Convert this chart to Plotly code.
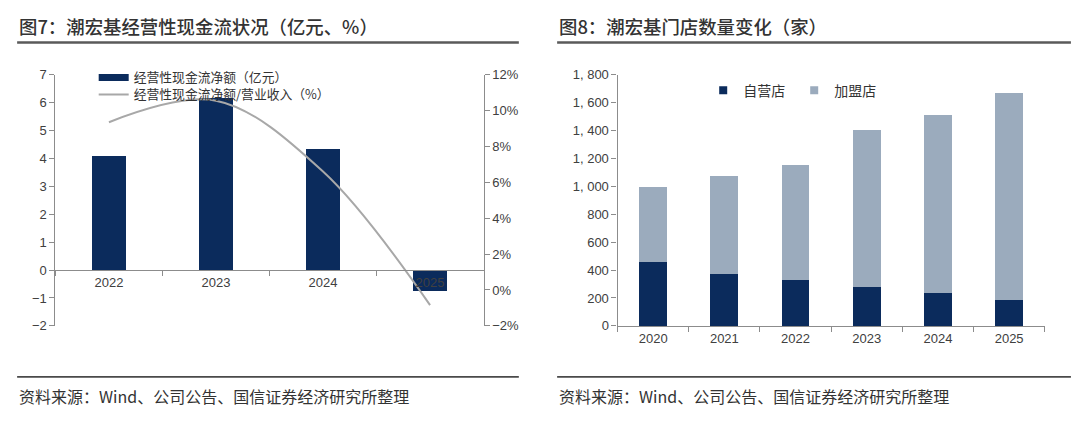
import plotly.graph_objects as go

# ---------------- data ----------------
cf_years = ["2022", "2023", "2024", "2025"]
cf_net = [4.10, 6.15, 4.34, -0.74]          # 经营性现金流净额（亿元）
cf_ratio = [9.35, 10.55, 6.6, -0.84]        # 经营性现金流净额/营业收入（%）

store_years = ["2020", "2021", "2022", "2023", "2024", "2025"]
store_self = [460, 370, 327, 279, 238, 188]          # 自营店
store_franchise = [535, 705, 829, 1121, 1276, 1481]  # 加盟店

store_ticks = [0, 200, 400, 600, 800, 1000, 1200, 1400, 1600, 1800]
store_ticktext = ["0", "200", "400", "600", "800", "1, 000", "1, 200", "1, 400", "1, 600", "1, 800"]

title_left = "图7：潮宏基经营性现金流状况（亿元、%）"
title_right = "图8：潮宏基门店数量变化（家）"
source_text = "资料来源：Wind、公司公告、国信证券经济研究所整理"

# ---------------- style ----------------
W, H = 1080, 423
NAVY = "#0b2b5c"
LIGHT = "#9babbd"
LINE_GRAY = "#a8a8a8"
AXIS_GRAY = "#8c8c8c"
TXT = "#333333"
CJK = "Noto Sans CJK SC"
TICKF = dict(family="Liberation Sans, Arial", size=13, color="#404040")

# screen -> layout pixel compensation (observed page offset/scale)
def sx(X):
    return (X / 0.9926 - 8) / W

def sy(Y):
    return 1 - (Y / 0.9636 - 16) / H

ydom = [sy(326), sy(75)]

fig = go.Figure()

# left chart: bars
fig.add_trace(go.Bar(
    x=cf_years, y=cf_net, name="经营性现金流净额（亿元）",
    marker=dict(color=NAVY, line=dict(width=0)), width=0.31,
    xaxis="x", yaxis="y", showlegend=False,
))
# legend proxy for the bars (flat wide swatch like the reference)
fig.add_trace(go.Scatter(
    x=[None], y=[None], mode="lines", name="经营性现金流净额（亿元）",
    line=dict(color=NAVY, width=7), xaxis="x", yaxis="y", legend="legend",
))
fig.add_trace(go.Scatter(
    x=cf_years, y=cf_ratio, mode="lines", name="经营性现金流净额/营业收入（%）",
    line=dict(color=LINE_GRAY, width=2, shape="spline", smoothing=1.0),
    xaxis="x", yaxis="y2", legend="legend3",
))

# right chart: stacked bars
fig.add_trace(go.Bar(
    x=store_years, y=store_self, name="自营店",
    marker=dict(color=NAVY, line=dict(width=0)), width=0.39,
    xaxis="x2", yaxis="y3", showlegend=False,
))
fig.add_trace(go.Bar(
    x=store_years, y=store_franchise, name="加盟店",
    marker=dict(color=LIGHT, line=dict(width=0)), width=0.39,
    xaxis="x2", yaxis="y3", showlegend=False,
))
for nm, col in [("自营店", NAVY), ("加盟店", LIGHT)]:
    fig.add_trace(go.Scatter(
        x=[None], y=[None], mode="markers", name=nm,
        marker=dict(color=col, symbol="square", size=8),
        xaxis="x2", yaxis="y3", legend="legend2",
    ))

axis_common = dict(
    showline=True, linecolor=AXIS_GRAY, linewidth=1.2,
    ticks="outside", ticklen=5, tickcolor=AXIS_GRAY,
    showgrid=False, zeroline=False, tickfont=TICKF,
)

fig.update_layout(
    width=W, height=H,
    margin=dict(l=0, r=0, t=0, b=0),
    paper_bgcolor="white", plot_bgcolor="white",
    barmode="stack",
    font=dict(family=CJK, color=TXT),
    xaxis=dict(
        domain=[sx(55), sx(480)], type="category", range=[-0.5, 3.5],
        anchor="free", position=sy(270), tickson="boundaries", **axis_common,
    ),
    yaxis=dict(domain=ydom, anchor="x", range=[-2, 7], dtick=1, **axis_common),
    yaxis2=dict(
        domain=ydom, anchor="x", overlaying="y", side="right",
        range=[-2, 12], dtick=2, ticksuffix="%", **axis_common,
    ),
    xaxis2=dict(
        domain=[sx(613), sx(1037)], anchor="y3", type="category", range=[-0.5, 5.5],
        tickson="boundaries", **axis_common,
    ),
    yaxis3=dict(
        domain=ydom, anchor="x2", range=[0, 1800],
        tickvals=store_ticks, ticktext=store_ticktext, **axis_common,
    ),
    legend=dict(
        x=sx(93), y=sy(78), xanchor="left", yanchor="middle",
        bgcolor="rgba(0,0,0,0)", font=dict(family=CJK, size=12.8, color=TXT),
        itemwidth=30,
    ),
    legend3=dict(
        x=sx(93), y=sy(95), xanchor="left", yanchor="middle",
        bgcolor="rgba(0,0,0,0)", font=dict(family=CJK, size=12.8, color=TXT),
        itemwidth=30,
    ),
    legend2=dict(
        x=sx(698), y=sy(91), xanchor="left", yanchor="middle",
        orientation="h", bgcolor="rgba(0,0,0,0)",
        font=dict(family=CJK, size=14, color=TXT),
        entrywidth=46, entrywidthmode="pixels", traceorder="normal",
    ),
    showlegend=True,
)

# titles, separators and source notes
annos = []
shapes = []
for x0, x1, title in [(17, 515, title_left), (553, 1063, title_right)]:
    annos.append(dict(
        text=title, x=sx(x0), y=sy(26), xref="paper", yref="paper",
        xanchor="left", yanchor="middle", showarrow=False,
        font=dict(family=CJK, size=18.4, color=TXT, weight=500),
    ))
    annos.append(dict(
        text=source_text, x=sx(x0), y=sy(396), xref="paper", yref="paper",
        xanchor="left", yanchor="middle", showarrow=False,
        font=dict(family=CJK, size=16, color=TXT),
    ))
    shapes.append(dict(type="line", xref="paper", yref="paper",
                       x0=sx(x0), x1=sx(x1), y0=sy(43), y1=sy(43),
                       line=dict(color="#5a5a5a", width=2.5)))
    shapes.append(dict(type="line", xref="paper", yref="paper",
                       x0=sx(x0), x1=sx(x1), y0=sy(377), y1=sy(377),
                       line=dict(color="#4a4a4a", width=1.8)))

fig.update_layout(annotations=annos, shapes=shapes)

fig.write_html("out.html")
